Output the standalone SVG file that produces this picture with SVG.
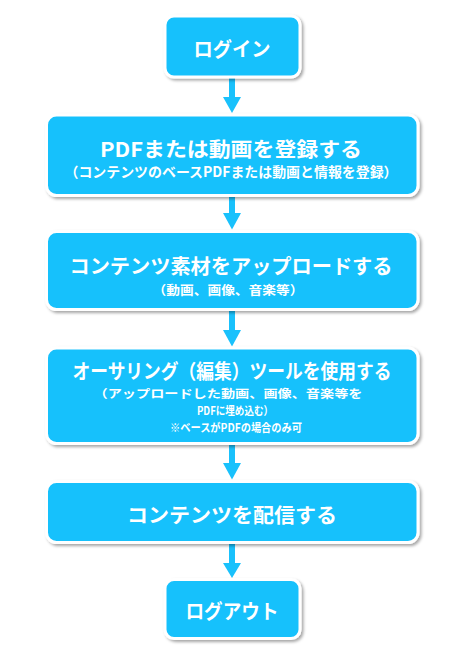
<svg xmlns="http://www.w3.org/2000/svg" width="471" height="658" viewBox="0 0 471 658">
  <defs>
    <filter id="sh" x="-10%" y="-10%" width="125%" height="130%">
      <feDropShadow dx="2" dy="2" stdDeviation="1.6" flood-color="#000" flood-opacity="0.35"/>
    </filter>
  </defs>
  <style>
    .box { fill: #19c1fc; stroke: #ffffff; stroke-width: 3; filter: url(#sh); }
    .t { font-family: "Noto Sans CJK JP", "Liberation Sans", sans-serif; font-weight: bold; fill: #ffffff; text-anchor: middle; dominant-baseline: central; }
    .big { font-size: 20px; }
    .small { font-size: 14px; }
    .sm2 { font-size: 12.5px; }
    .sm3 { font-size: 11.5px; }
    .arr { fill: #19c1fc; }
  </style>
  <rect x="0" y="0" width="471" height="658" fill="#ffffff"/>
  <g id="connectors">
    <rect class="arr" x="229" y="78" width="6" height="21"/>
    <polygon class="arr" points="223,97 241,97 232,113"/>
    <rect class="arr" x="229" y="196" width="6" height="18"/>
    <polygon class="arr" points="223,213 241,213 232,229.5"/>
    <rect class="arr" x="229" y="310" width="6" height="21"/>
    <polygon class="arr" points="223,330 241,330 232,346.5"/>
    <rect class="arr" x="229" y="444" width="6" height="20"/>
    <polygon class="arr" points="223,463 241,463 232,479.5"/>
    <rect class="arr" x="229" y="543" width="6" height="21"/>
    <polygon class="arr" points="223,563 241,563 232,578"/>
  </g>
  <g id="login">
    <rect class="box" x="165" y="16" width="135" height="61" rx="9"/>
    <text class="t big" x="232" y="48" textLength="77" lengthAdjust="spacingAndGlyphs">ログイン</text>
  </g>
  <g id="register">
    <rect class="box" x="46.5" y="115" width="371.5" height="80.5" rx="10"/>
    <text class="t big" x="231" y="148" textLength="262" lengthAdjust="spacingAndGlyphs">PDFまたは動画を登録する</text>
    <text class="t small" x="231" y="171" textLength="333" lengthAdjust="spacingAndGlyphs">（コンテンツのベースPDFまたは動画と情報を登録）</text>
  </g>
  <g id="upload">
    <rect class="box" x="46.5" y="231.5" width="371.5" height="78" rx="10"/>
    <text class="t big" x="231" y="265" textLength="323" lengthAdjust="spacingAndGlyphs">コンテンツ素材をアップロードする</text>
    <text class="t sm2" x="228" y="289" textLength="151" lengthAdjust="spacingAndGlyphs">（動画、画像、音楽等）</text>
  </g>
  <g id="authoring">
    <rect class="box" x="46.5" y="348" width="371.5" height="95.5" rx="10"/>
    <text class="t big" x="232" y="370" textLength="319" lengthAdjust="spacingAndGlyphs">オーサリング（編集）ツールを使用する</text>
    <text class="t sm3" x="228" y="393" textLength="269" lengthAdjust="spacingAndGlyphs">（アップロードした動画、画像、音楽等を</text>
    <text class="t sm3" x="235" y="410" textLength="76" lengthAdjust="spacingAndGlyphs">PDFに埋め込む）</text>
    <text class="t sm3" x="236" y="427" textLength="132" lengthAdjust="spacingAndGlyphs">※ベースがPDFの場合のみ可</text>
  </g>
  <g id="deliver">
    <rect class="box" x="46.5" y="481.5" width="371.5" height="61" rx="10"/>
    <text class="t big" x="232" y="514" textLength="210" lengthAdjust="spacingAndGlyphs">コンテンツを配信する</text>
  </g>
  <g id="logout">
    <rect class="box" x="165" y="579.5" width="135" height="59" rx="9"/>
    <text class="t big" x="232" y="610" textLength="93" lengthAdjust="spacingAndGlyphs">ログアウト</text>
  </g>
</svg>
